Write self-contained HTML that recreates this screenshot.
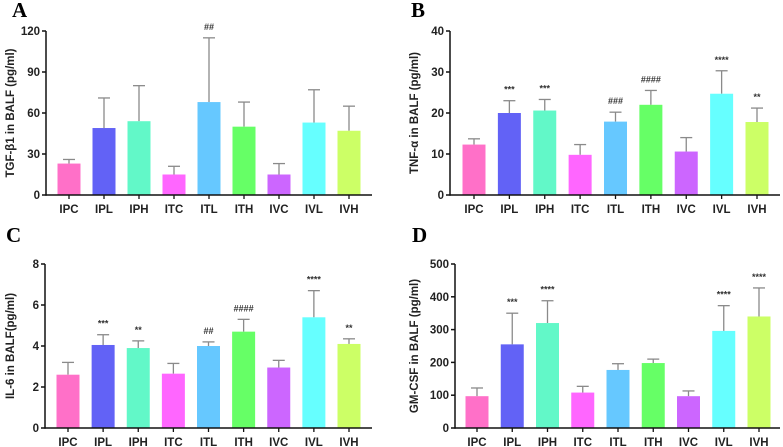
<!DOCTYPE html>
<html><head><meta charset="utf-8"><style>
html,body{margin:0;padding:0;background:#fff;}
svg{display:block;font-family:"Liberation Sans",Arial,sans-serif;}
</style></head><body>
<svg id="fig" width="783" height="447" viewBox="0 0 783 447" xmlns="http://www.w3.org/2000/svg"></svg>
<script>
const categories = ["IPC","IPL","IPH","ITC","ITL","ITH","IVC","IVL","IVH"];
const colors = ["#ff70c8","#6262f6","#62f8c8","#ff66ff","#66c8ff","#66ff66","#cc66ff","#66ffff","#ccff66"];
const aValues = [23,49,54,15,68,50,15,53,47];
const aErrTop = [26,71,80,21,115,68,23,77,65];
const aAnno = ["","","","","##","","","",""];
const aTicks = [0,30,60,90,120];
const bValues = [12.3,20,20.6,9.8,17.9,22,10.6,24.7,17.8];
const bErrTop = [13.7,23,23.3,12.3,20.2,25.5,14,30.3,21.2];
const bAnno = ["","***","***","","###","####","","****","**"];
const bTicks = [0,10,20,30,40];
const cValues = [2.6,4.05,3.9,2.65,4.0,4.7,2.95,5.4,4.1];
const cErrTop = [3.2,4.55,4.25,3.15,4.2,5.3,3.3,6.7,4.35];
const cAnno = ["","***","**","","##","####","","****","**"];
const cTicks = [0,2,4,6,8];
const dValues = [97,255,320,108,177,198,97,296,340];
const dErrTop = [122,350,388,127,196,210,113,373,427];
const dAnno = ["","***","****","","","","","****","****"];
const dTicks = [0,100,200,300,400,500];

const NS="http://www.w3.org/2000/svg";
const svg=document.getElementById('fig');
function mk(tag,attrs,parent){const e=document.createElementNS(NS,tag);for(const k in attrs)e.setAttribute(k,attrs[k]);(parent||svg).appendChild(e);return e;}

function panel(cfg){
  const g=mk('g',{});
  
  
  const ymax=cfg.ticks[cfg.ticks.length-1];
  const y=v=>cfg.y0-(v/ymax)*(cfg.y0-cfg.yTop);
  const x=i=>cfg.xFirst+i*(cfg.xLast-cfg.xFirst)/(categories.length-1);
  const bw=23;
  const L=mk('text',{x:cfg.lx,y:cfg.ly,'font-family':'"Liberation Serif",serif','font-weight':'bold','font-size':'21'},g);
  L.textContent=cfg.letter;
  
  
  categories.forEach((c,i)=>{
    const cx=x(i);
    const eb=mk('line',{x1:cx,x2:cx,y1:y(cfg.vals[i]),y2:y(cfg.err[i]),stroke:'#8a8a8a','stroke-width':1.3},g);
    
    
    const cap=mk('line',{x1:cx-6,x2:cx+6,y1:y(cfg.err[i]),y2:y(cfg.err[i]),stroke:'#8a8a8a','stroke-width':1.3},g);
    
    
    const r=mk('rect',{x:cx-bw/2,y:y(cfg.vals[i]),width:bw,height:cfg.y0-y(cfg.vals[i]),fill:colors[i]},g);
    
    
    const tk=mk('line',{x1:cx,x2:cx,y1:cfg.y0,y2:cfg.y0+4,stroke:'#111','stroke-width':1.3},g);
    
    
    const t=mk('text',{x:cx,y:cfg.y0+18,'text-anchor':'middle','font-weight':'bold','font-size':'11.5',fill:'#222'},g);
    t.textContent=c;
    
    
    if(cfg.anno[i]){
      const a=mk('text',{x:cx,y:y(cfg.err[i])-8,'text-anchor':'middle','font-size':'9','font-weight':'bold',fill:'#333'},g);
      a.textContent=cfg.anno[i];
      
      
    }
  });
  const ax=mk('line',{x1:cfg.ax,x2:cfg.ax,y1:cfg.yTop,y2:cfg.y0+0.75,stroke:'#111','stroke-width':1.5},g);
  
  
  const xa=mk('line',{x1:cfg.ax,x2:cfg.xEnd,y1:cfg.y0,y2:cfg.y0,stroke:'#111','stroke-width':1.5},g);
  
  
  cfg.ticks.forEach(tv=>{
    mk('line',{x1:cfg.ax-4,x2:cfg.ax,y1:y(tv),y2:y(tv),stroke:'#111','stroke-width':1.5},g);
    const t=mk('text',{x:cfg.ax-6,y:y(tv)+4,'text-anchor':'end','font-weight':'bold','font-size':'11.5',fill:'#222'},g);
    t.textContent=tv;
    
    
  });
  const cy=(cfg.y0+cfg.yTop)/2;
  const tt=mk('text',{x:cfg.tx,y:cy,'text-anchor':'middle','font-weight':'bold','font-size':'11.5',fill:'#222',transform:`rotate(-90 ${cfg.tx} ${cy})`},g);
  tt.textContent=cfg.title;
  
  
}
panel({letter:'A',lx:12,ly:17,vals:aValues,err:aErrTop,anno:aAnno,ticks:aTicks,ax:46,xEnd:372,y0:195,yTop:31,xFirst:69,xLast:349,tx:14,title:'TGF-β1 in BALF  (pg/ml)'});
panel({letter:'B',lx:411,ly:17,vals:bValues,err:bErrTop,anno:bAnno,ticks:bTicks,ax:450,xEnd:780,y0:195,yTop:31,xFirst:474,xLast:757,tx:418,title:'TNF-α in BALF (pg/ml)'});
panel({letter:'C',lx:6,ly:242,vals:cValues,err:cErrTop,anno:cAnno,ticks:cTicks,ax:45,xEnd:372,y0:428,yTop:264,xFirst:68,xLast:349,tx:14,title:'IL-6 in BALF(pg/ml)'});
panel({letter:'D',lx:412,ly:242,vals:dValues,err:dErrTop,anno:dAnno,ticks:dTicks,ax:455,xEnd:780,y0:428,yTop:264,xFirst:477,xLast:759,tx:418,title:'GM-CSF in BALF (pg/ml)'});
</script>
</body></html>
